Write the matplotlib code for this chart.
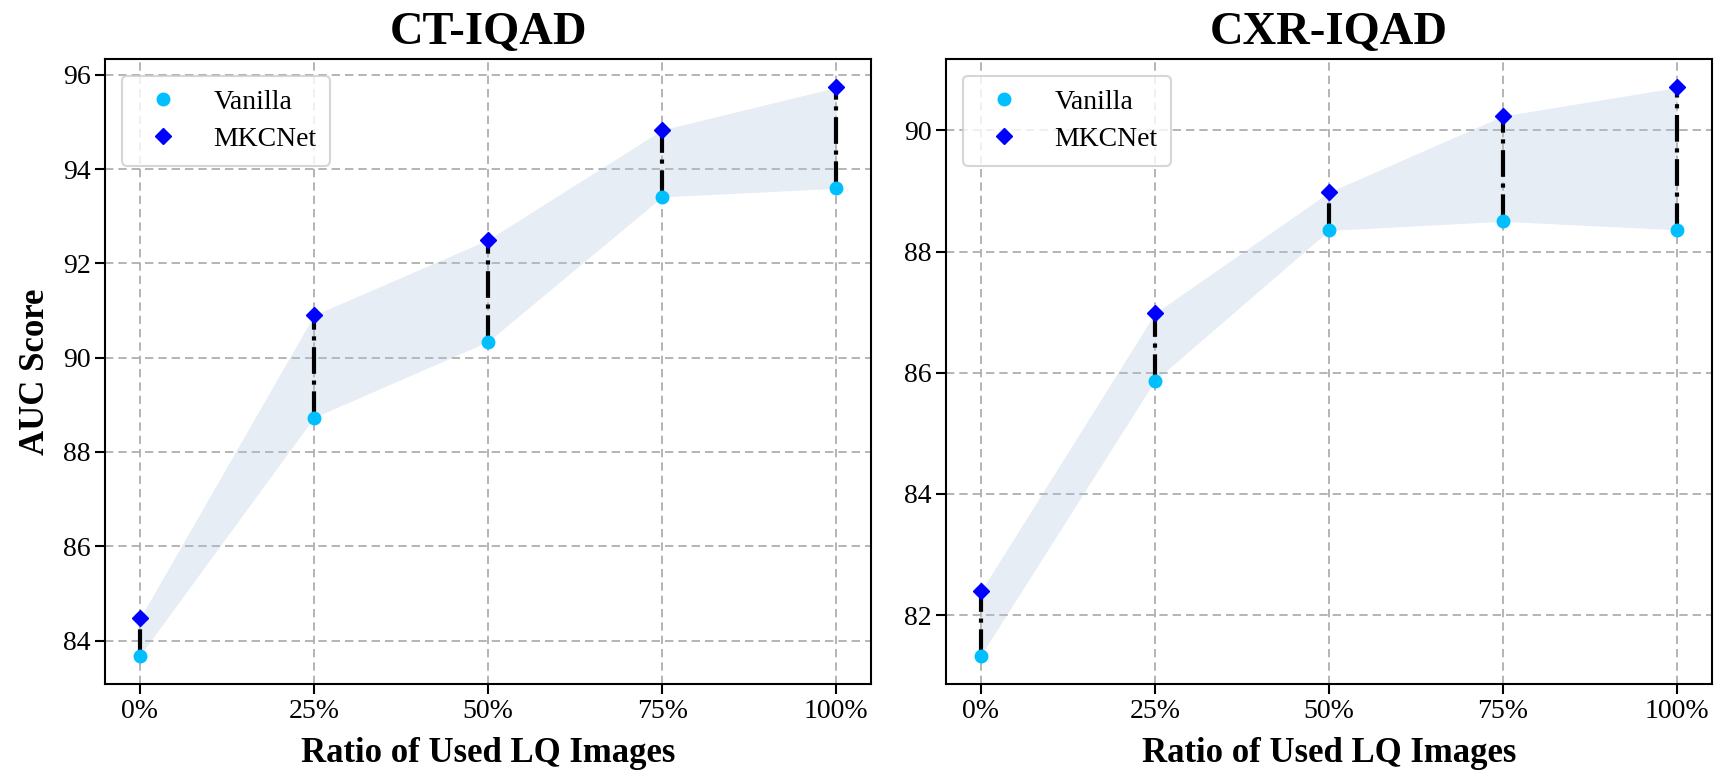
import matplotlib.pyplot as plt

ratios = [0, 25, 50, 75, 100]
ratio_labels = ['0%', '25%', '50%', '75%', '100%']

ct_vanilla = [83.68, 88.73, 90.34, 93.41, 93.59]
ct_mkcnet = [84.47, 90.90, 92.50, 94.83, 95.73]

cxr_vanilla = [81.33, 85.87, 88.35, 88.50, 88.36]
cxr_mkcnet = [82.39, 86.98, 88.98, 90.24, 90.71]

plt.rcParams['font.family'] = ['Liberation Serif', 'DejaVu Serif']

fig = plt.figure(figsize=(17.14, 7.73), dpi=100)
ax1 = fig.add_axes([0.0613, 0.1151, 0.4469, 0.8085])
ax2 = fig.add_axes([0.5519, 0.1151, 0.4469, 0.8085])

panels = [(ax1, 'CT-IQAD', ct_vanilla, ct_mkcnet),
          (ax2, 'CXR-IQAD', cxr_vanilla, cxr_mkcnet)]

for ax, title, van, mkc in panels:
    ax.set_axisbelow(True)
    ax.grid(True, linestyle='--', color='#a8a8a8', linewidth=1.2, dashes=(5, 3))
    # shaded gap between the two methods
    ax.fill_between(ratios, van, mkc, color='lightsteelblue', alpha=0.3, linewidth=0)
    for x, lo, hi in zip(ratios, van, mkc):
        ax.plot([x, x], [lo, hi], color='black', linestyle='-.', linewidth=3, zorder=3)
    ax.plot(ratios, van, 'o', color='#00BFFF', markersize=9, label='Vanilla', zorder=4)
    ax.plot(ratios, mkc, 'D', color='#0000FF', markersize=8, label='MKCNet', zorder=4)

    ax.set_xticks(ratios)
    ax.set_xticklabels(ratio_labels)
    ax.tick_params(axis='both', labelsize=20, length=7, width=1.5)
    for sp in ax.spines.values():
        sp.set_linewidth(1.5)
    ax.set_title(title, fontsize=33.5, fontweight='bold', pad=11)
    ax.set_xlabel('Ratio of Used LQ Images', fontsize=25, fontweight='bold', labelpad=10)
    leg = ax.legend(loc='upper left', fontsize=20, handletextpad=0.8, labelspacing=0.4,
                    borderpad=0.5, edgecolor='#cccccc', fancybox=True, borderaxespad=0.6)
    leg.get_frame().set_linewidth(1.5)

ax1.set_ylabel('AUC Score', fontsize=25, fontweight='bold', labelpad=8)

fig.savefig('out.png', dpi=100)
